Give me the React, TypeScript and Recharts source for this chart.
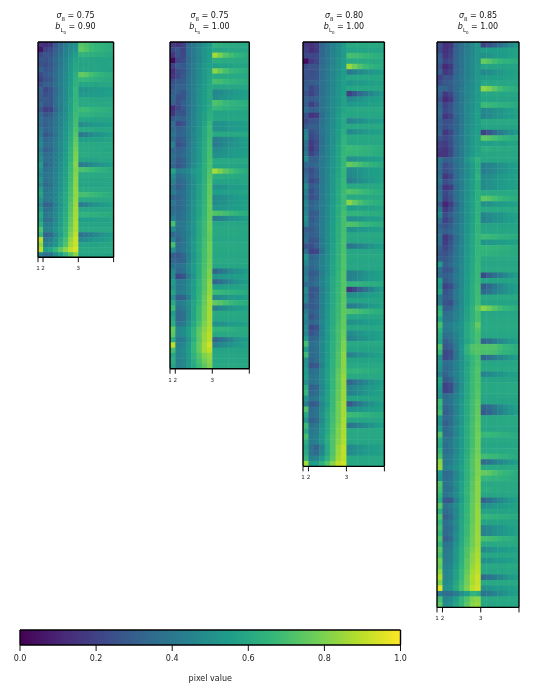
import React from "react";
import { ScatterChart, Scatter, BarChart, Bar, XAxis, YAxis } from "recharts";

const FONT = "DejaVu Sans, sans-serif";

// pixel values in percent, one row per line, 15 columns
const PANEL_A = [
  [14,13,16,28,34,42,47,50,73,71,68,66,65,63,62],
  [6,20,23,30,36,44,48,52,75,72,68,66,65,63,62],
  [22,27,26,32,38,45,50,55,65,64,63,62,62,61,60],
  [27,26,28,34,40,46,52,58,59,59,58,58,58,58,58],
  [25,24,27,33,40,47,53,59,58,58,58,58,58,58,59],
  [31,27,28,35,41,47,54,60,59,59,58,59,58,58,58],
  [24,28,30,36,42,48,54,62,76,74,70,67,65,63,62],
  [20,26,27,35,42,48,55,63,66,66,64,63,62,61,61],
  [26,30,31,37,43,49,55,64,59,59,59,58,59,59,59],
  [32,22,26,34,42,48,56,66,51,52,53,54,54,55,56],
  [30,24,27,35,42,49,56,66,53,53,54,54,55,56,56],
  [29,28,27,36,43,49,57,66,60,60,59,59,59,59,59],
  [33,26,26,36,43,50,57,67,60,60,60,60,60,60,60],
  [27,18,20,33,42,49,57,67,68,68,66,65,64,63,62],
  [34,26,29,37,44,50,58,68,64,64,63,62,62,61,61],
  [36,31,33,39,45,51,58,69,58,58,58,58,58,58,58],
  [35,30,33,39,45,52,59,70,48,50,52,53,54,55,56],
  [41,32,34,40,46,52,60,71,60,60,60,59,59,59,59],
  [40,27,30,38,46,53,61,73,40,43,47,50,52,54,56],
  [45,33,35,41,47,53,62,75,56,56,57,57,57,58,58],
  [47,35,36,42,48,54,63,76,60,60,60,60,60,60,60],
  [43,31,33,41,47,54,64,78,60,60,60,60,60,59,59],
  [46,35,37,43,48,55,65,79,61,61,60,60,60,60,60],
  [49,36,37,43,49,56,65,80,58,58,58,58,59,59,59],
  [55,32,35,43,50,56,67,81,42,44,47,50,52,54,56],
  [50,36,38,44,50,57,67,80,71,70,68,66,64,63,61],
  [46,38,39,45,51,57,68,81,60,60,60,60,60,60,60],
  [52,37,39,45,51,58,68,82,59,59,59,59,59,59,59],
  [48,34,37,45,51,58,69,82,58,58,58,58,58,59,59],
  [56,38,40,46,52,59,70,83,61,61,60,60,60,60,60],
  [58,40,41,46,53,60,70,83,70,70,68,67,65,63,62],
  [52,39,41,47,53,60,71,84,60,60,60,60,60,60,60],
  [48,31,33,44,52,60,72,85,42,45,48,51,53,55,57],
  [54,37,38,46,53,61,73,86,59,59,59,59,59,59,59],
  [60,40,42,48,55,62,74,86,64,64,63,63,62,62,61],
  [57,37,38,47,55,63,75,87,56,56,56,57,57,57,58],
  [62,42,43,49,56,64,76,88,58,58,58,58,58,58,58],
  [72,44,45,51,58,66,78,88,60,60,60,60,60,60,60],
  [66,32,34,46,56,66,80,90,38,41,44,47,50,53,55],
  [90,40,42,50,60,70,84,92,47,49,51,53,54,56,57],
  [84,44,46,52,62,72,86,92,58,58,58,58,59,59,59],
  [90,55,58,66,74,82,90,94,60,60,60,60,60,60,60],
  [46,37,39,49,56,65,73,82,58,58,58,58,58,58,58],
];

const PANEL_B = [
  [17,15,20,34,40,46,50,55,64,63,62,61,61,60,60],
  [22,27,21,36,41,47,52,55,59,59,59,59,59,59,59],
  [15,26,22,35,41,47,52,56,86,79,73,69,66,64,62],
  [3,22,24,34,41,46,52,56,62,62,61,61,60,60,60],
  [20,30,28,36,42,48,53,56,56,57,57,57,58,58,58],
  [13,24,26,35,42,48,53,58,82,76,71,67,65,63,62],
  [15,22,28,36,42,48,54,58,60,60,60,60,60,60,60],
  [24,29,29,37,43,49,54,59,70,69,67,65,64,63,62],
  [27,31,32,38,43,49,55,59,59,59,59,59,59,59,59],
  [30,30,27,37,43,50,55,60,46,48,50,52,54,55,56],
  [33,25,26,37,43,50,56,60,48,50,52,53,55,56,57],
  [31,25,30,38,44,50,56,60,72,70,67,65,64,63,62],
  [13,22,28,37,44,50,56,61,67,66,64,63,62,62,61],
  [15,27,25,37,44,51,57,62,58,58,58,58,58,58,58],
  [28,32,31,39,45,51,57,63,59,59,59,59,59,59,59],
  [36,22,26,38,45,51,58,67,50,51,52,53,54,55,56],
  [34,30,32,40,45,52,60,68,50,51,52,53,54,55,56],
  [38,32,33,40,46,52,60,68,60,60,60,60,60,60,60],
  [35,28,30,39,46,53,60,69,42,45,47,49,52,54,56],
  [44,24,28,39,46,53,61,69,41,44,47,50,52,54,56],
  [34,31,33,41,47,54,62,70,48,49,51,53,54,55,56],
  [37,32,34,41,47,54,62,70,50,51,52,53,55,56,57],
  [35,29,31,40,47,54,62,71,60,60,60,60,60,60,60],
  [33,27,31,40,48,55,63,71,58,58,58,58,58,58,58],
  [58,43,45,48,53,57,63,72,86,80,74,70,67,64,62],
  [48,36,38,44,50,56,63,73,62,62,61,61,60,60,60],
  [45,33,35,43,49,56,64,74,58,58,58,58,58,59,59],
  [38,30,34,43,49,57,64,75,50,51,52,54,55,56,57],
  [42,35,36,44,50,57,65,75,56,56,57,57,57,58,58],
  [33,32,36,44,50,57,65,76,47,49,50,52,54,55,56],
  [40,34,37,44,51,58,65,76,48,50,51,53,54,56,57],
  [35,33,36,44,51,58,66,76,52,52,53,54,55,56,57],
  [38,35,38,45,51,58,66,76,72,71,69,67,65,63,62],
  [44,36,38,45,52,59,67,76,42,44,47,50,52,54,56],
  [70,40,40,46,52,60,68,77,59,59,59,59,59,59,59],
  [48,38,40,46,52,60,68,77,60,60,60,60,60,60,60],
  [34,36,39,45,52,60,68,76,60,60,60,60,60,59,59],
  [45,32,38,46,53,61,69,76,59,59,59,59,59,59,59],
  [70,36,39,46,53,61,69,78,60,60,60,60,60,60,60],
  [50,36,40,46,54,62,70,78,60,60,60,60,60,60,60],
  [30,28,33,43,52,60,70,77,59,59,59,59,59,59,59],
  [34,32,32,44,53,61,70,78,60,60,60,60,60,60,60],
  [38,37,39,47,54,62,71,78,59,59,59,59,59,59,59],
  [47,34,36,46,54,62,72,80,33,38,42,46,50,52,55],
  [48,22,27,42,52,62,72,80,52,53,54,55,56,56,57],
  [55,40,42,48,56,64,73,82,32,37,42,46,50,53,55],
  [52,40,42,49,56,64,73,83,56,56,57,57,57,58,58],
  [58,42,43,49,56,65,74,83,68,67,65,64,63,62,61],
  [50,30,31,44,56,66,76,85,47,49,51,53,54,55,57],
  [60,42,44,50,58,66,76,86,75,73,70,67,65,63,62],
  [68,38,40,48,58,68,78,86,43,46,49,52,54,56,57],
  [56,34,37,48,58,68,78,86,60,60,60,60,60,60,60],
  [60,34,36,48,58,68,78,86,59,59,59,59,59,59,59],
  [62,38,40,50,60,70,80,86,50,51,52,54,55,56,57],
  [76,46,48,56,64,74,82,88,65,65,64,63,62,61,61],
  [74,46,48,56,65,75,84,89,60,60,60,60,60,60,60],
  [62,40,42,52,62,74,84,89,33,37,41,45,50,53,55],
  [90,44,46,54,66,76,86,93,45,47,49,51,53,55,57],
  [70,46,48,56,66,76,86,90,58,58,58,58,58,58,58],
  [60,45,47,54,64,72,80,84,59,59,59,59,59,59,59],
  [62,44,46,53,62,70,78,82,59,59,59,59,59,59,59],
  [58,44,46,53,60,68,74,80,60,60,60,60,60,60,60],
];

const PANEL_C = [
  [16,14,18,32,38,44,48,54,60,60,60,60,60,60,60],
  [19,13,17,33,38,44,49,54,58,58,58,58,58,58,58],
  [22,22,22,33,39,45,49,54,70,69,68,66,65,63,62],
  [3,17,21,34,39,45,50,55,60,60,60,60,60,60,60],
  [24,26,26,35,40,46,50,55,85,78,72,68,65,63,62],
  [26,24,26,35,40,46,50,55,40,44,47,50,52,54,56],
  [25,25,27,35,41,46,51,56,59,59,59,59,59,59,59],
  [28,29,30,37,41,47,51,56,52,53,54,55,56,57,57],
  [30,21,26,36,41,47,52,56,59,59,59,59,59,59,59],
  [25,20,27,36,42,47,52,56,20,27,34,40,46,50,54],
  [31,28,31,38,42,48,52,57,47,49,51,53,55,56,57],
  [30,19,26,37,43,48,52,57,53,54,55,56,57,57,58],
  [35,30,32,38,43,48,53,58,60,60,60,60,60,60,60],
  [25,14,18,34,43,49,55,60,59,59,59,59,59,59,59],
  [22,26,27,37,43,49,55,60,45,47,49,52,54,55,56],
  [28,30,30,38,44,49,55,60,60,60,60,60,60,60,60],
  [44,24,28,38,44,50,56,62,47,49,51,53,55,56,57],
  [46,22,26,37,44,50,56,64,60,60,60,60,60,60,60],
  [38,18,24,36,44,50,57,65,59,59,59,59,59,59,59],
  [36,16,24,37,45,51,58,66,68,67,66,65,64,63,62],
  [40,20,27,38,45,51,58,66,66,66,65,64,63,62,61],
  [48,30,32,40,45,52,58,66,50,51,53,54,55,56,57],
  [34,32,34,41,46,52,58,66,76,73,70,67,65,63,61],
  [30,24,30,40,46,52,58,66,48,50,51,53,55,56,57],
  [34,26,30,40,46,53,59,66,47,49,51,53,55,56,57],
  [38,22,26,39,46,53,60,67,42,45,48,51,53,55,57],
  [48,28,32,41,47,53,60,67,60,60,60,60,60,60,60],
  [44,24,30,41,47,54,61,68,72,71,69,67,65,63,62],
  [40,24,28,40,47,54,61,68,60,60,60,60,60,60,60],
  [46,30,34,42,47,54,61,68,82,76,71,67,65,63,62],
  [44,32,36,42,48,55,62,68,56,56,57,57,57,58,58],
  [46,28,30,41,48,55,62,70,65,65,64,63,62,62,61],
  [50,28,32,42,48,55,62,70,50,51,52,54,55,56,57],
  [46,30,34,42,49,56,63,70,72,71,68,66,65,63,62],
  [30,28,32,42,49,56,63,70,50,51,53,54,55,56,57],
  [34,30,32,42,49,56,63,70,60,60,60,60,60,60,60],
  [36,26,28,40,49,56,63,71,59,59,59,59,59,59,59],
  [26,24,30,41,49,57,64,71,38,41,45,48,51,54,56],
  [36,20,22,38,49,57,64,71,59,59,59,59,59,59,59],
  [52,32,35,43,50,57,64,72,60,60,60,60,60,60,60],
  [48,34,37,44,50,58,65,72,59,59,59,59,59,59,59],
  [42,32,36,44,50,58,65,72,59,59,59,59,59,59,59],
  [40,28,30,42,50,58,66,73,43,45,48,51,53,55,57],
  [44,30,34,44,52,60,66,73,44,46,49,52,54,56,57],
  [36,33,36,45,52,60,66,73,65,65,64,63,62,62,61],
  [48,26,28,42,50,60,67,73,15,22,30,37,44,50,54],
  [44,26,30,43,52,60,67,74,50,51,52,54,55,56,57],
  [46,28,32,44,52,60,67,74,58,58,58,58,58,58,58],
  [32,28,30,43,52,60,68,74,42,44,47,50,53,55,57],
  [42,30,33,44,53,61,68,75,72,71,69,67,65,63,62],
  [46,25,30,44,53,61,68,75,59,59,59,59,59,59,59],
  [44,32,35,46,54,61,69,76,50,51,52,54,55,56,57],
  [48,22,25,44,54,62,70,76,59,59,59,59,59,59,59],
  [46,26,30,44,54,62,70,77,48,50,52,54,55,56,57],
  [54,32,34,46,54,62,70,78,45,47,50,52,54,56,57],
  [70,36,38,47,55,63,70,80,60,60,60,60,60,60,60],
  [56,34,36,47,55,63,71,80,58,58,58,58,58,58,58],
  [68,34,36,46,55,63,72,82,45,47,50,52,54,56,57],
  [50,32,35,47,56,64,72,82,58,58,58,58,58,58,58],
  [52,26,28,44,56,64,72,82,60,60,60,60,60,60,60],
  [54,36,38,48,57,65,74,82,65,65,64,63,62,62,61],
  [56,38,40,48,57,66,75,84,60,60,60,60,60,60,60],
  [50,38,40,48,57,66,75,84,32,37,42,46,50,53,55],
  [62,30,33,46,56,66,75,84,45,47,49,52,54,55,57],
  [66,33,35,47,57,67,76,85,44,46,49,52,54,56,57],
  [52,38,40,50,58,67,76,85,58,58,58,58,58,58,58],
  [44,28,30,46,56,67,78,86,28,34,40,46,50,53,55],
  [72,34,38,48,58,68,78,86,50,51,52,54,55,56,57],
  [60,36,38,50,60,69,78,86,68,67,66,64,63,62,61],
  [52,30,34,48,59,69,78,87,59,59,59,59,59,59,59],
  [68,38,40,50,60,70,79,87,38,41,45,48,51,54,56],
  [60,40,42,52,60,70,80,87,60,60,60,60,60,60,60],
  [70,42,44,52,62,72,80,88,60,60,60,60,60,60,60],
  [62,42,44,52,62,72,81,88,59,59,59,59,59,59,59],
  [58,38,32,44,60,72,84,90,47,49,51,53,55,56,57],
  [60,38,34,46,60,72,84,90,48,50,52,54,55,56,57],
  [66,44,46,54,64,74,86,90,60,60,60,60,60,60,60],
  [86,55,56,64,72,82,90,93,60,60,60,60,60,60,60],
];

const PANEL_D = [
  [24,14,16,31,37,42,47,52,20,25,30,36,42,47,52],
  [22,14,18,32,37,43,47,52,55,55,55,56,56,57,57],
  [28,15,20,32,38,43,48,52,50,51,53,54,55,56,57],
  [30,20,23,33,38,44,48,52,76,73,69,66,64,63,62],
  [26,11,17,32,38,44,48,53,58,58,58,58,58,58,58],
  [30,16,20,33,38,44,48,53,47,49,51,53,55,56,57],
  [20,26,26,34,39,45,49,53,55,55,56,56,57,57,58],
  [24,28,30,35,39,45,49,53,59,59,59,59,59,59,59],
  [33,32,28,34,40,46,49,54,83,80,74,69,66,64,62],
  [30,17,22,33,40,46,50,54,59,59,59,59,59,59,59],
  [26,12,17,32,40,46,50,55,58,58,58,58,58,58,58],
  [32,20,25,34,40,47,50,55,68,67,66,64,63,62,61],
  [34,22,26,35,40,47,51,56,46,48,50,52,54,56,57],
  [34,15,20,33,40,47,51,56,45,47,50,52,54,55,57],
  [30,24,26,32,40,47,52,56,60,60,60,60,60,60,60],
  [30,24,28,33,40,48,52,56,58,58,58,58,58,58,58],
  [32,16,22,33,41,48,53,56,20,27,34,41,46,50,54],
  [26,22,26,35,41,48,53,57,75,73,70,67,65,63,62],
  [20,18,24,34,41,48,53,57,56,56,57,57,57,58,58],
  [18,15,22,34,41,48,53,57,62,62,61,61,60,60,60],
  [16,15,22,34,41,49,54,58,59,59,59,59,59,59,59],
  [38,30,32,38,43,52,58,64,59,59,59,59,59,59,59],
  [36,24,28,36,42,49,55,62,43,45,47,50,52,54,56],
  [34,24,28,36,43,49,55,62,42,45,47,50,52,54,56],
  [36,16,22,35,43,49,55,65,47,49,51,53,55,56,57],
  [38,24,28,37,43,50,56,62,48,50,52,54,55,56,57],
  [34,15,18,34,43,50,56,62,48,50,52,54,55,56,57],
  [36,22,28,37,44,50,56,63,60,60,60,60,60,60,60],
  [38,20,26,36,44,51,57,63,75,73,70,67,65,63,62],
  [28,10,18,32,43,51,57,64,50,51,53,54,55,56,57],
  [40,17,24,35,44,51,57,64,60,60,60,60,60,60,60],
  [46,24,30,37,44,51,57,64,46,48,50,52,54,56,57],
  [36,20,26,36,44,51,57,65,45,47,50,52,54,55,57],
  [30,26,30,38,45,52,58,65,58,58,58,58,58,58,58],
  [34,30,33,39,45,52,58,65,59,59,59,59,59,59,59],
  [38,17,24,36,45,53,59,66,68,67,66,64,63,62,61],
  [36,18,26,37,45,53,59,66,52,53,54,55,56,56,57],
  [30,22,28,38,46,53,59,66,66,66,65,64,63,62,61],
  [28,26,30,39,46,54,59,66,65,64,63,62,62,61,61],
  [30,28,32,40,46,54,59,66,60,60,60,60,60,60,60],
  [54,30,34,41,47,54,60,67,59,59,59,59,59,59,59],
  [36,26,28,39,47,54,60,67,60,60,60,60,60,60,60],
  [34,30,33,41,47,55,61,67,22,30,36,42,47,51,55],
  [56,28,32,40,47,55,61,67,58,58,58,58,58,58,58],
  [52,20,24,37,47,55,62,68,28,34,40,46,50,53,56],
  [58,26,30,41,48,56,62,68,34,38,43,47,50,53,56],
  [40,28,30,41,48,56,62,69,60,60,60,60,60,60,60],
  [42,26,24,39,48,56,62,69,58,58,58,58,58,58,58],
  [62,30,32,42,49,57,64,74,82,78,73,69,66,64,62],
  [66,36,38,44,49,57,64,70,59,59,59,59,59,59,59],
  [58,38,38,45,50,58,64,70,60,60,60,60,60,60,60],
  [70,42,44,48,52,60,66,76,60,60,60,60,60,60,60],
  [64,40,42,47,52,60,66,72,60,60,60,60,60,60,60],
  [60,36,38,45,51,60,66,70,59,59,59,59,59,59,59],
  [58,30,34,43,51,58,64,70,32,36,41,46,50,53,56],
  [72,28,30,41,52,64,72,73,72,72,72,69,66,64,62],
  [66,22,24,39,52,64,71,73,71,71,70,67,65,63,62],
  [50,22,26,39,50,60,66,70,33,37,42,46,50,53,56],
  [52,36,38,45,51,58,66,71,59,59,59,59,59,59,59],
  [50,34,36,44,51,59,67,72,60,60,60,60,60,60,60],
  [44,32,38,45,51,59,68,72,45,47,50,52,54,56,57],
  [58,28,32,43,51,59,68,72,58,58,58,58,58,58,58],
  [56,20,24,39,50,60,68,72,60,60,60,60,60,60,60],
  [52,20,24,41,51,60,68,73,60,60,60,60,60,60,60],
  [50,34,38,45,52,60,68,73,59,59,59,59,59,59,59],
  [68,36,38,46,53,61,69,75,58,58,58,58,58,58,58],
  [66,32,36,45,53,61,69,75,32,35,40,46,50,53,56],
  [70,30,34,45,53,61,69,76,28,33,38,44,49,52,55],
  [52,34,36,46,53,61,69,76,60,60,60,60,60,60,60],
  [50,30,34,45,53,62,70,77,60,60,60,60,60,60,60],
  [56,34,38,47,54,62,70,77,59,59,59,59,59,59,59],
  [72,34,36,46,54,62,70,78,67,67,66,64,63,62,61],
  [62,38,40,48,54,62,70,78,60,60,60,60,60,60,60],
  [60,36,40,47,54,62,70,78,59,59,59,59,59,59,59],
  [66,36,38,47,54,62,71,78,60,60,60,60,60,60,60],
  [70,40,42,49,55,63,72,79,69,68,67,65,64,62,61],
  [82,40,42,49,55,64,73,80,35,38,43,47,50,53,56],
  [84,44,46,51,57,64,73,80,60,60,60,60,60,60,60],
  [54,34,36,46,55,64,72,80,76,74,71,68,66,64,62],
  [52,36,38,47,55,64,73,81,66,66,65,64,63,62,61],
  [72,38,40,49,57,65,74,82,60,60,60,60,60,60,60],
  [70,36,38,47,57,66,74,82,62,62,61,61,60,60,60],
  [66,38,42,49,57,66,75,82,59,59,59,59,59,59,59],
  [62,28,28,44,56,65,75,82,32,36,41,46,50,53,56],
  [74,38,42,49,58,66,76,83,50,51,53,54,55,56,57],
  [62,34,38,47,58,66,76,84,58,58,58,58,58,58,58],
  [72,30,34,47,58,67,76,84,65,65,64,63,62,61,61],
  [66,36,40,49,59,67,76,84,58,58,58,58,58,58,58],
  [70,34,36,47,59,68,77,84,45,47,50,52,54,56,57],
  [66,34,38,49,59,68,77,85,45,47,50,52,54,55,57],
  [72,30,34,49,60,69,78,85,70,69,68,66,64,63,61],
  [66,38,40,51,61,70,78,85,60,60,60,60,60,60,60],
  [74,40,42,53,63,72,80,86,48,50,52,54,55,56,57],
  [70,42,44,53,63,72,82,87,59,59,59,59,59,59,59],
  [78,42,44,53,63,74,82,88,50,51,53,54,55,56,57],
  [76,44,46,55,65,74,84,89,60,60,60,60,60,60,60],
  [82,46,48,57,67,76,86,90,59,59,59,59,59,59,59],
  [88,46,48,57,67,78,88,92,34,38,42,46,50,53,56],
  [80,48,50,59,69,78,87,91,60,60,60,60,60,60,60],
  [96,50,52,61,71,80,90,93,50,51,53,54,55,56,57],
  [42,36,36,42,50,56,65,62,38,41,45,48,51,54,56],
  [70,46,48,56,65,72,80,82,60,60,60,60,60,60,60],
  [74,48,50,58,66,74,82,84,59,59,59,59,59,59,59],
];

const TICK_POSITIONS = [0, 1, 8, 15];
const TICK_LABELS = ["1", "2", "3", ""];
const COLORBAR_TICKS = [0, 0.2, 0.4, 0.6, 0.8, 1];
const COLORBAR_DATA = [{ name: "pixel value", extent: 1 }];

const VIRIDIS = ["#440154", "#482878", "#3e4989", "#31688e", "#26828e", "#1f9e89", "#35b779", "#6ece58", "#b5de2b", "#fde725"];

const FRAME = { stroke: "#000", strokeWidth: 1.4 };

function hexToRgb(hex: string) {
  return [1, 3, 5].map((i) => parseInt(hex.slice(i, i + 2), 16));
}

function viridis(v: number) {
  const t = Math.min(0.9999, Math.max(0, v)) * (VIRIDIS.length - 1);
  const i = Math.floor(t);
  const a = hexToRgb(VIRIDIS[i]);
  const b = hexToRgb(VIRIDIS[i + 1]);
  const c = a.map((x, k) => Math.round(x + (b[k] - x) * (t - i)));
  return `rgb(${c[0]},${c[1]},${c[2]})`;
}

const Title = ({ sigma, b, center }: { sigma: string; b: string; center: number }) => (
  <div
    style={{
      position: "absolute",
      left: center - 50,
      top: 10,
      width: 100,
      textAlign: "center",
      fontFamily: FONT,
      fontSize: 8,
      lineHeight: "11px",
      color: "#111",
      whiteSpace: "nowrap",
    }}
  >
    <div>
      <i>σ</i>
      <sub style={{ fontSize: 5.5, lineHeight: 0 }}>8</sub> = {sigma}
    </div>
    <div>
      <i>b</i>
      <sub style={{ fontSize: 5.5, lineHeight: 0 }}>
        L<sub style={{ fontSize: 4, lineHeight: 0 }}>0</sub>
      </sub>{" "}
      = {b}
    </div>
  </div>
);

// four spines, laid over the cells as a second chart because a series paints over its own axes
const Spines = ({ width, height, pad }: { width: number; height: number; pad: number }) => (
  <div style={{ position: "absolute", left: 0, top: 0 }}>
    <BarChart
      layout="vertical"
      data={COLORBAR_DATA}
      width={width + 2 * pad}
      height={height + 2 * pad}
      margin={{ top: pad - 1, right: pad - 1, bottom: pad - 1, left: pad - 1 }}
    >
      <XAxis type="number" domain={[0, 1]} height={1} axisLine={FRAME} tick={false} tickLine={false} />
      <XAxis xAxisId="top" orientation="top" type="number" domain={[0, 1]} height={1} axisLine={FRAME} tick={false} tickLine={false} />
      <YAxis type="category" dataKey="name" width={0} hide />
      <YAxis yAxisId="left" orientation="left" type="number" domain={[0, 1]} width={1} axisLine={FRAME} tick={false} tickLine={false} />
      <YAxis yAxisId="right" orientation="right" type="number" domain={[0, 1]} width={1} axisLine={FRAME} tick={false} tickLine={false} />
      <Bar dataKey="extent" fill="none" isAnimationActive={false} />
    </BarChart>
  </div>
);

const Panel = ({ rows, x0, x1, y1 }: { rows: number[][]; x0: number; x1: number; y1: number }) => {
  const top = 42.3;
  const pad = 6;
  const w = x1 - x0;
  const h = y1 - top;
  const cw = w / 15;
  const ch = h / rows.length;
  const data = rows.flatMap((row, r) => row.map((v, c) => ({ col: c + 0.5, row: r + 0.5, value: v / 100 })));

  return (
    <div style={{ position: "absolute", left: x0 - pad, top: top - pad }}>
      <ScatterChart
        width={w + 2 * pad}
        height={h + pad + 24}
        margin={{ top: pad, right: pad, bottom: 0, left: pad }}
      >
        <XAxis
          type="number"
          dataKey="col"
          domain={[0, 15]}
          ticks={TICK_POSITIONS}
          interval={0}
          height={24}
          axisLine={false}
          tickLine={{ stroke: "#111", strokeWidth: 1 }}
          tickSize={5}
          tickMargin={4}
          tickFormatter={(v: number) => TICK_LABELS[TICK_POSITIONS.indexOf(v)]}
          tick={{ fontSize: 5.6, fontFamily: FONT, fill: "#222" }}
        />
        <YAxis type="number" dataKey="row" domain={[0, rows.length]} reversed hide />
        <Scatter
          data={data}
          isAnimationActive={false}
          shape={(p: any) => (
            <rect
              x={p.cx - cw / 2}
              y={p.cy - ch / 2}
              width={p.payload.col > 14 ? cw : cw + 0.5}
              height={p.payload.row > rows.length - 1 ? ch : ch + 0.5}
              fill={viridis(p.payload.value)}
            />
          )}
        />
      </ScatterChart>
      <Spines width={w} height={h} pad={pad} />
    </div>
  );
};

const Colorbar = () => (
  <div style={{ position: "absolute", left: 9.5, top: 624.6 }}>
    <BarChart
      layout="vertical"
      data={COLORBAR_DATA}
      width={400}
      height={68}
      barCategoryGap={0}
      margin={{ top: 4, right: 8.5, bottom: 0, left: 9 }}
    >
      <defs>
        <linearGradient id="viridisRamp" x1="0" y1="0" x2="1" y2="0">
          {VIRIDIS.map((c, i) => (
            <stop key={c} offset={i / (VIRIDIS.length - 1)} stopColor={c} />
          ))}
        </linearGradient>
      </defs>
      <XAxis
        type="number"
        domain={[0, 1]}
        ticks={COLORBAR_TICKS}
        interval={0}
        height={48}
        axisLine={FRAME}
        tickLine={{ stroke: "#111", strokeWidth: 1 }}
        tickSize={6}
        tickMargin={4}
        tickFormatter={(v: number) => v.toFixed(1)}
        tick={{ fontSize: 8, fontFamily: FONT, fill: "#222" }}
        label={{ value: "pixel value", position: "insideBottom", offset: 12, fontSize: 8, fontFamily: FONT, fill: "#222" }}
      />
      <XAxis xAxisId="top" orientation="top" type="number" domain={[0, 1]} height={1} axisLine={FRAME} tick={false} tickLine={false} />
      <YAxis type="category" dataKey="name" width={0} hide />
      <YAxis yAxisId="left" orientation="left" type="number" domain={[0, 1]} width={1} axisLine={FRAME} tick={false} tickLine={false} />
      <YAxis yAxisId="right" orientation="right" type="number" domain={[0, 1]} width={1} axisLine={FRAME} tick={false} tickLine={false} />
      <Bar dataKey="extent" fill="url(#viridisRamp)" isAnimationActive={false} />
    </BarChart>
  </div>
);

export default function App() {
  return (
    <div
      style={{
        position: "absolute",
        left: 0,
        top: 0,
        width: 539,
        height: 693,
        background: "#fff",
        overflow: "hidden",
        filter: "blur(0.3px)",
      }}
    >
      <Title sigma="0.75" b="0.90" center={75.5} />
      <Title sigma="0.75" b="1.00" center={209.5} />
      <Title sigma="0.80" b="1.00" center={344} />
      <Title sigma="0.85" b="1.00" center={478} />
      <Panel rows={PANEL_A} x0={37.7} x1={113.3} y1={257.5} />
      <Panel rows={PANEL_B} x0={170} x1={249.3} y1={369} />
      <Panel rows={PANEL_C} x0={303.3} x1={384.7} y1={466.7} />
      <Panel rows={PANEL_D} x0={437.3} x1={519.3} y1={607.7} />
      <Colorbar />
    </div>
  );
}
